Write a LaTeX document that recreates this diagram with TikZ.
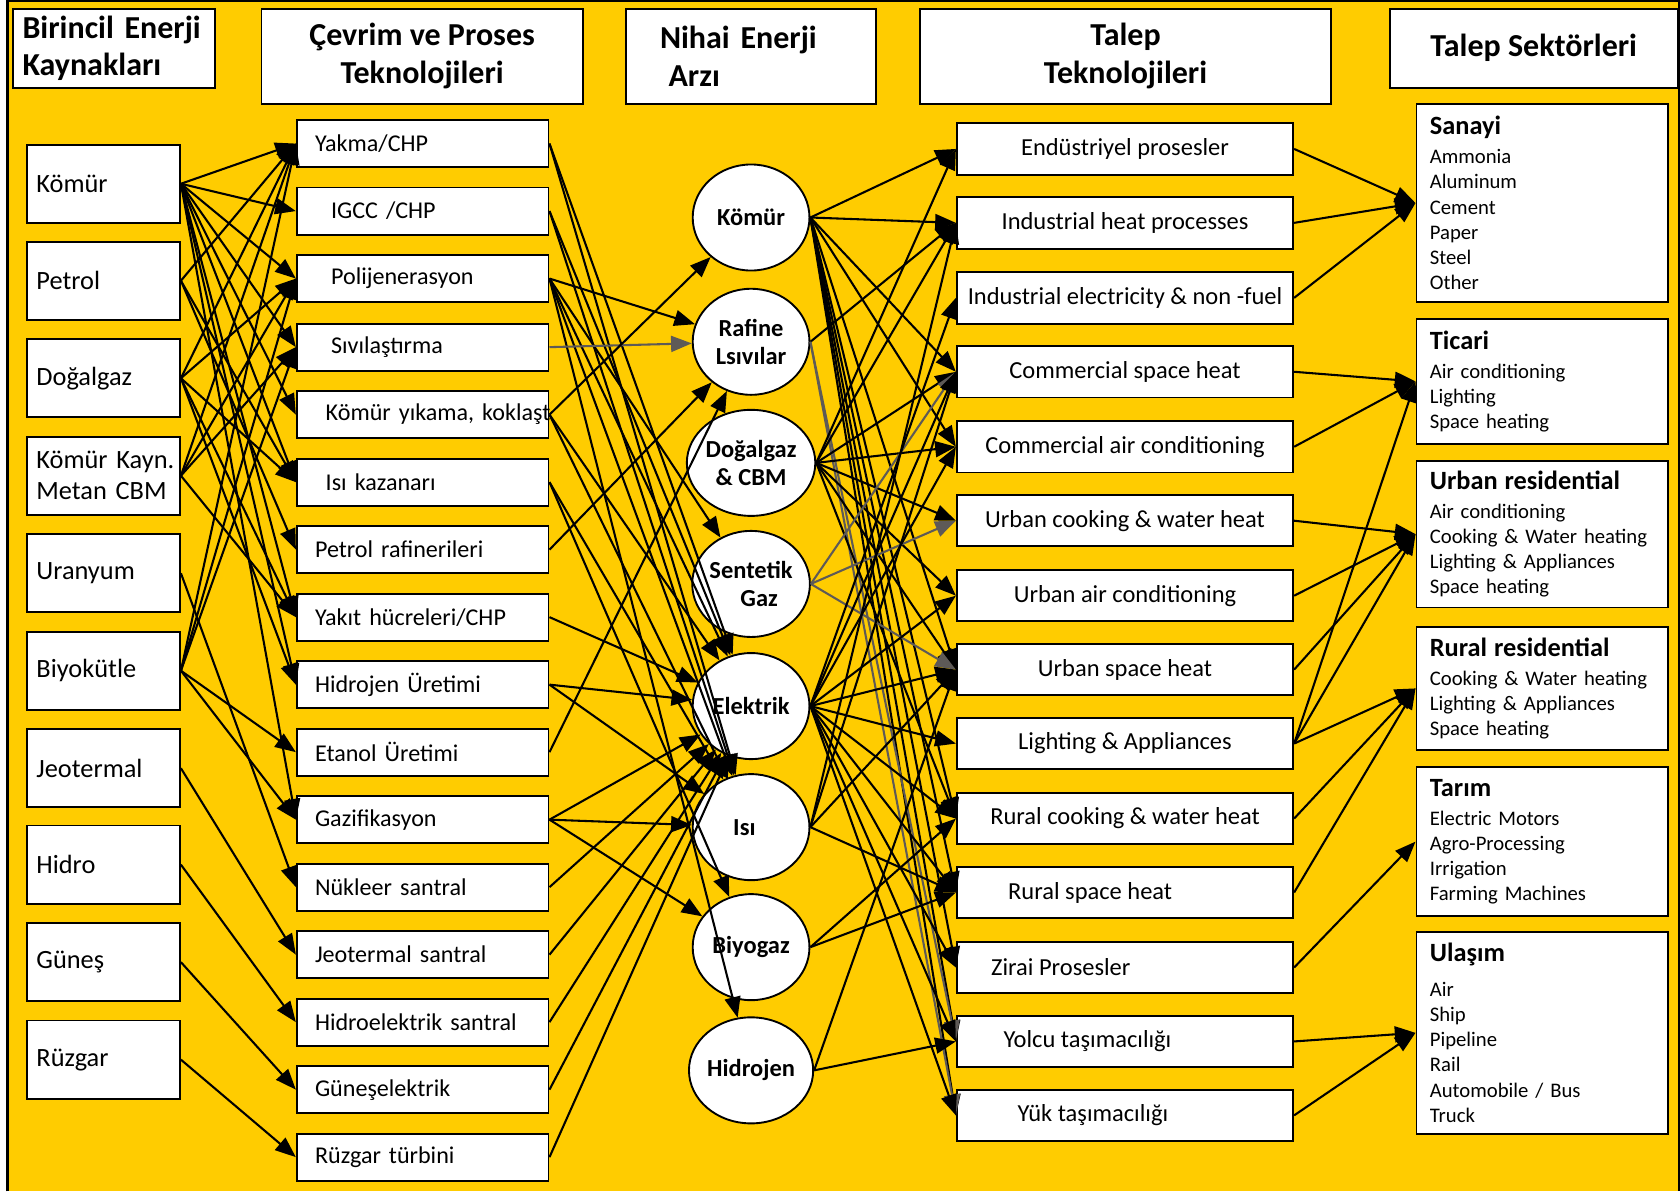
\documentclass[tikz,border=0pt]{standalone}
\usepackage{fontspec}
\setmainfont{Carlito}
\usetikzlibrary{shapes.geometric, arrows.meta, positioning}
\definecolor{FlowYellow}{HTML}{FFCC00}
\definecolor{FlowGrey}{HTML}{5E5A57}
\newcommand{\sectortitle}[1]{{\fontsize{14}{16}\selectfont\bfseries #1}}
\tikzset{
    % Box styles with sharp corners
    header box/.style={
        rectangle,
        draw=black,
        fill=white,
        line width=1pt,
        align=center,
        font=\fontsize{17}{20}\selectfont\bfseries
    },
    source box/.style={
        rectangle,
        draw=black,
        fill=white,
        line width=1pt,
        minimum height=1.46cm,
        text width=2.5cm,
        inner xsep=0.18cm,
        align=left,
        font=\fontsize{14}{16.5}\selectfont
    },
    process box/.style={
        rectangle,
        draw=black,
        fill=white,
        line width=1pt,
        minimum height=0.88cm,
        text width=4.02cm,
        inner xsep=0.34cm,
        inner ysep=0.05cm,
        align=left,
        font=\fontsize{12.8}{15}\selectfont
    },
    carrier node/.style={
        ellipse,
        draw=black,
        fill=white,
        line width=1pt,
        minimum width=2.18cm,
        minimum height=1.98cm,
        inner sep=0pt,
        align=center,
        font=\fontsize{13}{15}\selectfont\bfseries
    },
    demand box/.style={
        rectangle,
        draw=black,
        fill=white,
        line width=1pt,
        minimum width=6.28cm,
        minimum height=0.96cm,
        inner sep=0pt,
        align=center,
        font=\fontsize{13}{15}\selectfont
    },
    sector box/.style={
        rectangle,
        draw=black,
        fill=white,
        line width=1pt,
        text width=4.2cm,
        inner xsep=0.25cm,
        inner ysep=0.1cm,
        align=left,
        font=\fontsize{11}{13.4}\selectfont
    },
    arrow style/.style={
        -{Triangle[length=11pt,width=8.5pt]},
        line width=1.1pt,
        black
    },
    grey arrow style/.style={
        arrow style,
        FlowGrey
    }
}

\begin{document}
\begin{tikzpicture}[x=0.02cm, y=-0.02cm]
        \useasboundingbox (0,0) rectangle (1568,1112);
        % Background and frame
        \fill[FlowYellow] (7,0) rectangle (1568,1112);
        \draw[line width=1.2pt] (7,1112) -- (7,1) -- (1567,1) -- (1567,1112);

        % Column headers
        \node[header box, minimum height=1.48cm, text width=3.42cm, inner xsep=0.18cm, align=left] (hdrsource) at (106.5,45) {Birincil Enerji\\Kaynakları};
        \node[header box, minimum width=6cm, minimum height=1.78cm] (hdrprocess) at (394,52.5) {Çevrim ve Proses\\Teknolojileri};
        \node[header box, minimum height=1.78cm, text width=3.4cm, inner xsep=0.64cm, align=left] (hdrcarrier) at (701,52.5) {Nihai Enerji\\\hspace*{0.16cm}Arzı};
        \node[header box, minimum width=7.66cm, minimum height=1.78cm] (hdrdemand) at (1050.5,52.5) {Talep\\Teknolojileri};
        \node[header box, minimum width=5.38cm, minimum height=1.48cm] (hdrsector) at (1431.5,45) {Talep Sektörleri};

        % Primary energy sources
        \node[source box] (kom) at (96.5,171.5) {Kömür};
        \node[source box] (pet) at (96.5,262) {Petrol};
        \node[source box] (dog) at (96.5,353) {Doğalgaz};
        \node[source box] (cbm) at (96.5,444) {\mbox{Kömür Kayn.}\\Metan CBM};
        \node[source box] (ura) at (96.5,535) {Uranyum};
        \node[source box] (biy) at (96.5,626) {Biyokütle};
        \node[source box] (jeo) at (96.5,717) {Jeotermal};
        \node[source box] (hid) at (96.5,807) {Hidro};
        \node[source box] (gun) at (96.5,898) {Güneş};
        \node[source box] (ruz) at (96.5,989) {Rüzgar};

        % Conversion and process technologies
        \node[process box] (yakma) at (394.5,134) {Yakma/CHP};
        \node[process box] (igcc) at (394.5,197) {\hspace*{0.3cm}IGCC /CHP};
        \node[process box] (polijen) at (394.5,260) {\hspace*{0.3cm}Polijenerasyon};
        \node[process box] (sivi) at (394.5,324) {\hspace*{0.3cm}Sıvılaştırma};
        \node[process box] (yikama) at (394.5,387) {\hspace*{0.2cm}\mbox{Kömür yıkama, koklaşt}};
        \node[process box] (kazan) at (394.5,450) {\hspace*{0.2cm}Isı kazanarı};
        \node[process box] (rafineri) at (394.5,513) {Petrol rafinerileri};
        \node[process box] (yakit) at (394.5,576) {Yakıt hücreleri/CHP};
        \node[process box] (hidrojenU) at (394.5,639) {Hidrojen Üretimi};
        \node[process box] (etanol) at (394.5,702) {Etanol Üretimi};
        \node[process box] (gazif) at (394.5,765) {Gazifikasyon};
        \node[process box] (nukleer) at (394.5,828) {Nükleer santral};
        \node[process box] (jeoS) at (394.5,891) {Jeotermal santral};
        \node[process box] (hidroS) at (394.5,954) {Hidroelektrik santral};
        \node[process box] (gunesS) at (394.5,1017) {Güneşelektrik};
        \node[process box] (ruzgarS) at (394.5,1080) {Rüzgar türbini};

        % Final energy carriers
        \node[carrier node] (komC) at (701,203) {Kömür};
        \node[carrier node] (rafC) at (701,319) {Rafine\\Lsıvılar};
        \node[carrier node] (dogC) at (701,432) {Doğalgaz\\\& CBM};
        \node[carrier node] (senC) at (701,545) {Sentetik\\\hspace*{0.3cm}Gaz};
        \node[carrier node] (elkC) at (701,659) {Elektrik};
        \node[carrier node] (isiC) at (701,772) {Isı\hspace*{0.25cm}};
        \node[carrier node] (biyC) at (701,884) {Biyogaz};
        \node[carrier node] (hidC) at (701,999) {Hidrojen};

        % Demand technologies
        \node[demand box] (endus) at (1050,139) {Endüstriyel prosesler};
        \node[demand box] (indheat) at (1050,208) {Industrial heat processes};
        \node[demand box] (indelec) at (1050,278) {Industrial electricity \& non -fuel};
        \node[demand box] (comheat) at (1050,347) {Commercial space heat};
        \node[demand box] (comac) at (1050,417) {Commercial air conditioning};
        \node[demand box] (urbcook) at (1050,486) {Urban cooking \& water heat};
        \node[demand box] (urbac) at (1050,556) {Urban air conditioning};
        \node[demand box] (urbheat) at (1050,625) {Urban space heat};
        \node[demand box] (lighting) at (1050,694) {Lighting \& Appliances};
        \node[demand box] (rurcook) at (1050,764) {Rural cooking \& water heat};
        \node[demand box] (rurheat) at (1050,833) {Rural space heat\hspace*{1.3cm}};
        \node[demand box] (zirai) at (1050,903) {Zirai Prosesler\hspace*{2.4cm}};
        \node[demand box] (yolcu) at (1050,972) {Yolcu taşımacılığı\hspace*{1.4cm}};
        \node[demand box] (yuk) at (1050,1041) {Yük taşımacılığı\hspace*{1.2cm}};

        % Demand sectors
        \node[sector box, minimum height=3.7cm] (sanayi) at (1439.5,189.5) {\sectortitle{Sanayi}\\[2pt]Ammonia\\Aluminum\\Cement\\Paper\\Steel\\Other};
        \node[sector box, minimum height=2.32cm] (ticari) at (1439.5,356) {\sectortitle{Ticari}\\[2pt]Air conditioning\\Lighting\\Space heating};
        \node[sector box, minimum height=2.74cm] (urbanres) at (1439.5,498.5) {\sectortitle{Urban residential}\\[2pt]Air conditioning\\\mbox{Cooking \& Water heating}\\Lighting \& Appliances\\Space heating};
        \node[sector box, minimum height=2.3cm] (ruralres) at (1439.5,642.5) {\sectortitle{Rural residential}\\[2pt]\mbox{Cooking \& Water heating}\\Lighting \& Appliances\\Space heating};
        \node[sector box, minimum height=2.78cm] (tarim) at (1439.5,785.5) {\sectortitle{Tarım}\\[2pt]Electric Motors\\Agro-Processing\\Irrigation\\Farming Machines};
        \node[sector box, minimum height=3.76cm] (ulasim) at (1439.5,964) {\sectortitle{Ulaşım}\\[5pt]Air\\Ship\\Pipeline\\Rail\\Automobile / Bus\\Truck};

        % Sources to processes
        \draw[arrow style] (kom.east) -- (yakma.west);
        \draw[arrow style] (kom.east) -- (igcc.west);
        \draw[arrow style] (kom.east) -- (polijen.west);
        \draw[arrow style] (kom.east) -- (sivi.west);
        \draw[arrow style] (kom.east) -- (yikama.west);
        \draw[arrow style] (kom.east) -- (kazan.west);
        \draw[arrow style] (kom.east) -- (yakit.west);
        \draw[arrow style] (kom.east) -- (hidrojenU.west);
        \draw[arrow style] (kom.east) -- (gazif.west);
        \draw[arrow style] (pet.east) -- (yakma.west);
        \draw[arrow style] (pet.east) -- (kazan.west);
        \draw[arrow style] (pet.east) -- (rafineri.west);
        \draw[arrow style] (dog.east) -- (yakma.west);
        \draw[arrow style] (dog.east) -- (polijen.west);
        \draw[arrow style] (dog.east) -- (kazan.west);
        \draw[arrow style] (dog.east) -- (yakit.west);
        \draw[arrow style] (dog.east) -- (hidrojenU.west);
        \draw[arrow style] (cbm.east) -- (yakma.west);
        \draw[arrow style] (cbm.east) -- (polijen.west);
        \draw[arrow style] (cbm.east) -- (sivi.west);
        \draw[arrow style] (cbm.east) -- (yakit.west);
        \draw[arrow style] (ura.east) -- (nukleer.west);
        \draw[arrow style] (biy.east) -- (yakma.west);
        \draw[arrow style] (biy.east) -- (polijen.west);
        \draw[arrow style] (biy.east) -- (sivi.west);
        \draw[arrow style] (biy.east) -- (etanol.west);
        \draw[arrow style] (biy.east) -- (gazif.west);
        \draw[arrow style] (jeo.east) -- (jeoS.west);
        \draw[arrow style] (hid.east) -- (hidroS.west);
        \draw[arrow style] (gun.east) -- (gunesS.west);
        \draw[arrow style] (ruz.east) -- (ruzgarS.west);

        % Processes to final energy
        \draw[arrow style] (yakma.east) -- (elkC);
        \draw[arrow style] (yakma.east) -- (isiC);
        \draw[arrow style] (igcc.east) -- (elkC);
        \draw[arrow style] (igcc.east) -- (isiC);
        \draw[arrow style] (polijen.east) -- (rafC);
        \draw[arrow style] (polijen.east) -- (senC);
        \draw[arrow style] (polijen.east) -- (elkC);
        \draw[arrow style] (polijen.east) -- (isiC);
        \draw[arrow style] (polijen.east) -- (hidC);
        \draw[grey arrow style] (sivi.east) -- (rafC);
        \draw[arrow style] (yikama.east) -- (komC);
        \draw[arrow style] (yikama.east) -- (elkC);
        \draw[arrow style] (yikama.east) -- (isiC);
        \draw[arrow style] (kazan.east) -- (isiC);
        \draw[arrow style] (kazan.east) -- (biyC);
        \draw[arrow style] (rafineri.east) -- (rafC);
        \draw[arrow style] (yakit.east) -- (elkC);
        \draw[arrow style] (hidrojenU.east) -- (elkC);
        \draw[arrow style] (hidrojenU.east) -- (isiC);
        \draw[arrow style] (etanol.east) -- (rafC);
        \draw[arrow style] (gazif.east) -- (elkC);
        \draw[arrow style] (gazif.east) -- (isiC);
        \draw[arrow style] (gazif.east) -- (biyC);
        \draw[arrow style] (nukleer.east) -- (elkC);
        \draw[arrow style] (jeoS.east) -- (elkC);
        \draw[arrow style] (hidroS.east) -- (elkC);
        \draw[arrow style] (gunesS.east) -- (elkC);
        \draw[arrow style] (ruzgarS.east) -- (elkC);

        % Final energy to demand technologies
        \draw[arrow style] (komC.east) -- (endus.west);
        \draw[arrow style] (komC.east) -- (indheat.west);
        \draw[arrow style] (komC.east) -- (comheat.west);
        \draw[arrow style] (komC.east) -- (comac.west);
        \draw[arrow style] (komC.east) -- (urbheat.west);
        \draw[arrow style] (komC.east) -- (rurcook.west);
        \draw[arrow style] (komC.east) -- (rurheat.west);
        \draw[arrow style] (komC.east) -- (zirai.west);
        \draw[arrow style] (komC.east) -- (yolcu.west);
        \draw[arrow style] (komC.east) -- (yuk.west);
        \draw[arrow style] (rafC.east) -- (indheat.west);
        \draw[grey arrow style] (rafC.east) -- (yolcu.west);
        \draw[grey arrow style] (rafC.east) -- (yuk.west);
        \draw[arrow style] (dogC.east) -- (endus.west);
        \draw[arrow style] (dogC.east) -- (indheat.west);
        \draw[arrow style] (dogC.east) -- (comheat.west);
        \draw[arrow style] (dogC.east) -- (comac.west);
        \draw[arrow style] (dogC.east) -- (urbcook.west);
        \draw[arrow style] (dogC.east) -- (urbac.west);
        \draw[arrow style] (dogC.east) -- (urbheat.west);
        \draw[arrow style] (dogC.east) -- (rurcook.west);
        \draw[grey arrow style] (senC.east) -- (comheat.west);
        \draw[grey arrow style] (senC.east) -- (urbcook.west);
        \draw[grey arrow style] (senC.east) -- (urbheat.west);
        \draw[arrow style] (elkC.east) -- (indelec.west);
        \draw[arrow style] (elkC.east) -- (comheat.west);
        \draw[arrow style] (elkC.east) -- (comac.west);
        \draw[arrow style] (elkC.east) -- (urbac.west);
        \draw[arrow style] (elkC.east) -- (urbheat.west);
        \draw[arrow style] (elkC.east) -- (lighting.west);
        \draw[arrow style] (elkC.east) -- (rurcook.west);
        \draw[arrow style] (elkC.east) -- (rurheat.west);
        \draw[arrow style] (elkC.east) -- (zirai.west);
        \draw[arrow style] (elkC.east) -- (yolcu.west);
        \draw[arrow style] (elkC.east) -- (yuk.west);
        \draw[arrow style] (isiC.east) -- (indheat.west);
        \draw[arrow style] (isiC.east) -- (comheat.west);
        \draw[arrow style] (isiC.east) -- (urbheat.west);
        \draw[arrow style] (isiC.east) -- (rurheat.west);
        \draw[arrow style] (biyC.east) -- (rurcook.west);
        \draw[arrow style] (biyC.east) -- (rurheat.west);
        \draw[arrow style] (hidC.east) -- (urbheat.west);
        \draw[arrow style] (hidC.east) -- (yolcu.west);

        % Demand technologies to sectors
        \draw[arrow style] (endus.east) -- (sanayi.west);
        \draw[arrow style] (indheat.east) -- (sanayi.west);
        \draw[arrow style] (indelec.east) -- (sanayi.west);
        \draw[arrow style] (comheat.east) -- (ticari.west);
        \draw[arrow style] (comac.east) -- (ticari.west);
        \draw[arrow style] (lighting.east) -- (ticari.west);
        \draw[arrow style] (urbcook.east) -- (urbanres.west);
        \draw[arrow style] (urbac.east) -- (urbanres.west);
        \draw[arrow style] (urbheat.east) -- (urbanres.west);
        \draw[arrow style] (lighting.east) -- (urbanres.west);
        \draw[arrow style] (lighting.east) -- (ruralres.west);
        \draw[arrow style] (rurcook.east) -- (ruralres.west);
        \draw[arrow style] (rurheat.east) -- (ruralres.west);
        \draw[arrow style] (zirai.east) -- (tarim.west);
        \draw[arrow style] (yolcu.east) -- (ulasim.west);
        \draw[arrow style] (yuk.east) -- (ulasim.west);
\end{tikzpicture}
\end{document}
